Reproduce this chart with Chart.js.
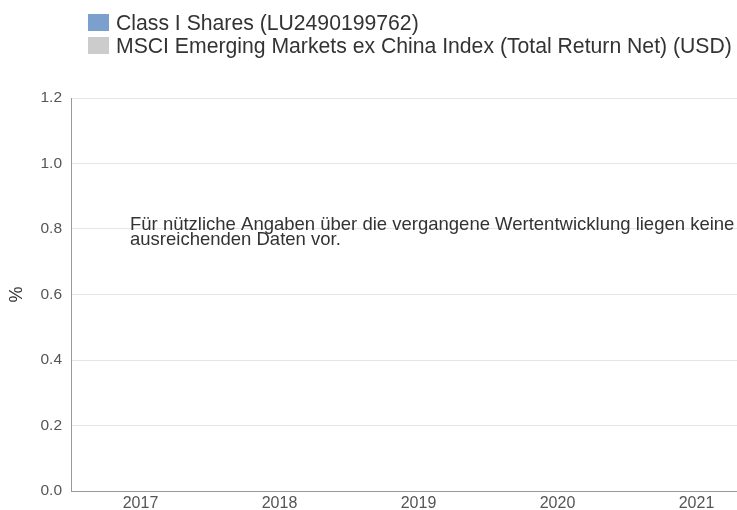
<!DOCTYPE html>
<html>
<head>
<meta charset="utf-8">
<script src="https://cdn.jsdelivr.net/npm/chart.js@4/dist/chart.umd.min.js"></script>
<style>
  html, body { margin:0; padding:0; overflow:hidden; background:#fff; width:737px; height:510px; }
  #wrap { position:absolute; left:0; top:0; width:766px; height:510px; }
  #legend { position:absolute; left:88px; top:11px; font-family:"Liberation Sans", Arial, sans-serif;
            font-size:21.2px; color:#333; line-height:23px; z-index:2; }
  #legend .it { display:flex; align-items:center; white-space:nowrap; }
  #legend .sw { width:21px; height:17px; margin-right:7px; display:inline-block; }
</style>
</head>
<body>
<div id="legend"></div>
<div id="wrap"><canvas id="c"></canvas></div>
<script>
// no performance history yet: both series are empty
const years = ["2017", "2018", "2019", "2020", "2021"];
const classI = [null, null, null, null, null];
const msciExChina = [null, null, null, null, null];
const seriesNames = ["Class I Shares (LU2490199762)", "MSCI Emerging Markets ex China Index (Total Return Net) (USD)"];
const seriesColors = ["#7ba0cd", "#cccccc"];
const yTicks = [0, 0.2, 0.4, 0.6, 0.8, 1.0, 1.2];
const noDataMsg = ["Für nützliche Angaben über die vergangene Wertentwicklung liegen keine", "ausreichenden Daten vor."];

const FONT = '"Liberation Sans", Arial, sans-serif';
Chart.defaults.font.family = FONT;
Chart.defaults.color = "#555";

document.getElementById("legend").innerHTML = seriesNames.map((n, i) =>
  `<div class="it"><span class="sw" style="background:${seriesColors[i]}"></span>${n}</div>`).join("");

const msgPlugin = {
  id: "nodata",
  afterDraw(chart) {
    const {ctx, chartArea} = chart;
    ctx.save();
    ctx.font = `18.5px ${FONT}`;
    ctx.fillStyle = "#333";
    ctx.textBaseline = "alphabetic";
    noDataMsg.forEach((t, i) => ctx.fillText(t, chartArea.left + 59, 230 + i * 15));
    ctx.restore();
  }
};

new Chart(document.getElementById("c"), {
  type: "bar",
  data: {labels: years, datasets: [
    {label: seriesNames[0], data: classI, backgroundColor: seriesColors[0]},
    {label: seriesNames[1], data: msciExChina, backgroundColor: seriesColors[1]},
  ]},
  options: {
    responsive: true, maintainAspectRatio: false, animation: false,
    layout: {padding: {top: 98, right: 0, bottom: 0, left: 0}},
    plugins: {legend: {display: false}, tooltip: {enabled: false}},
    scales: {
      x: {afterFit: s => { s.height = 19; },
          grid: {display: false, drawTicks: false}, border: {color: "#999"},
          ticks: {font: {size: 16}, padding: 3, color: "#555", maxRotation: 0}},
      y: {min: 0, max: 1.2, afterFit: s => { s.width = 71; },
          afterBuildTicks: s => { s.ticks = yTicks.map(v => ({value: v})); },
          grid: {color: "#e6e6e6", drawTicks: false}, border: {color: "#999"},
          ticks: {font: {size: 15.5}, padding: 9, color: "#555", callback: v => v.toFixed(1)},
          title: {display: true, text: "%", font: {size: 18}, color: "#333", padding: {top: 6, bottom: 0}}},
    },
  },
  plugins: [msgPlugin],
});
</script>
</body>
</html>
